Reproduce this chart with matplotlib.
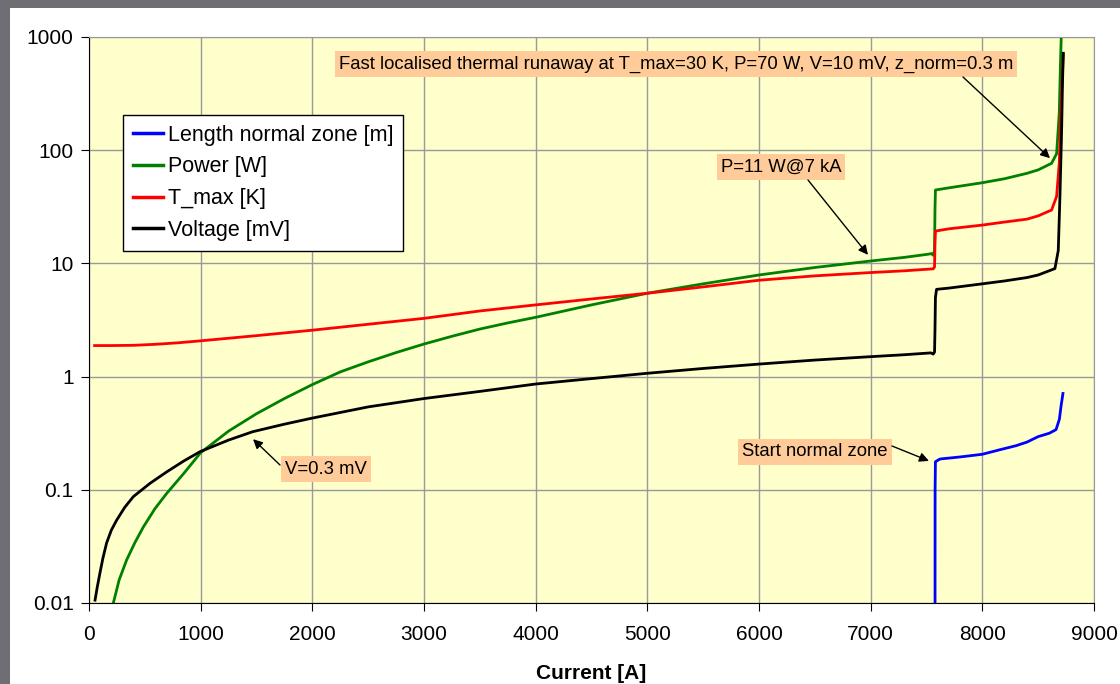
import matplotlib.pyplot as plt
from matplotlib.patches import Rectangle

plt.rcParams['font.family'] = ['Liberation Sans', 'DejaVu Sans']

# data (current in A)
length_I = [7576, 7577, 7580, 7620, 7800, 8000, 8150, 8300, 8400, 8500, 8600, 8660, 8690, 8705, 8722]
length_z = [0.001, 0.1, 0.177, 0.187, 0.195, 0.206, 0.225, 0.245, 0.264, 0.295, 0.316, 0.34, 0.42, 0.55, 0.71]

power_I = [218, 270, 337, 410, 487, 590, 696, 850, 1000, 1125, 1250, 1500, 1750, 2000, 2250, 2500,
           2750, 3000, 3250, 3500, 3750, 4000, 4500, 5000, 5500, 6000, 6500, 7000, 7300, 7500,
           7545, 7560, 7572, 7576, 7580, 7700, 8000, 8200, 8400, 8500, 8620, 8665, 8689, 8700, 8712]
power_P = [0.01, 0.016, 0.024, 0.034, 0.047, 0.068, 0.093, 0.14, 0.213, 0.265, 0.33, 0.47, 0.64, 0.85, 1.1, 1.35,
           1.63, 1.94, 2.27, 2.63, 2.98, 3.34, 4.3, 5.45, 6.6, 7.9, 9.2, 10.5, 11.3, 12.0,
           12.2, 11.8, 13, 30, 44.5, 46.5, 51.6, 56, 62.5, 67, 76.6, 93, 213, 600, 1500]

tmax_I = [50, 200, 400, 600, 800, 1000, 1500, 2000, 2500, 3000, 3500, 4000, 4500, 5000, 5500,
          6000, 6500, 7000, 7300, 7500, 7560, 7572, 7576, 7580, 7700, 8000, 8200, 8400, 8500, 8620,
          8665, 8689, 8705, 8718, 8725]
tmax_T = [1.88, 1.88, 1.89, 1.93, 1.99, 2.07, 2.3, 2.57, 2.9, 3.27, 3.8, 4.3, 4.85, 5.45, 6.2,
          7.1, 7.76, 8.3, 8.6, 8.87, 8.95, 9.3, 15, 19.3, 20.2, 21.8, 23.2, 24.6, 26.3, 29.6,
          39, 77, 250, 500, 700]

volt_I = [54, 75, 98, 125, 158, 200, 248, 320, 397, 546, 696, 850, 994, 1250, 1466, 1750, 2000,
          2500, 3000, 3500, 4000, 4500, 5000, 5500, 6000, 6500, 7000, 7300, 7540, 7560, 7572,
          7576, 7580, 7590, 7700, 8000, 8200, 8400, 8500, 8650, 8680, 8695, 8710, 8718, 8725]
volt_V = [0.0106, 0.014, 0.0184, 0.025, 0.034, 0.044, 0.054, 0.07, 0.087, 0.114, 0.144, 0.18, 0.217, 0.275, 0.326, 0.38, 0.43,
          0.54, 0.64, 0.74, 0.86, 0.96, 1.07, 1.18, 1.29, 1.4, 1.5, 1.56, 1.62, 1.58, 1.65,
          2.6, 5.0, 5.9, 6.05, 6.6, 7.0, 7.5, 7.9, 9.0, 13, 39, 150, 400, 718]

H = 684
fig = plt.figure(figsize=(11.2, 6.84), dpi=100, facecolor='#6f6e74')
fig.patches.append(Rectangle((10 / 1120, 0), 1, 1 - 8 / H, transform=fig.transFigure,
                             facecolor='white', edgecolor='none', zorder=-10))
ax = fig.add_axes([89 / 1120, 1 - 603 / H, 1005 / 1120, 566 / H])
ax.set_facecolor('#ffffcc')

lw = 2.0
ax.plot(length_I, length_z, color='#0000ff', lw=lw, label='Length normal zone [m]')
ax.plot(power_I, power_P, color='#008000', lw=lw, label='Power [W]')
ax.plot(tmax_I, tmax_T, color='#ff0000', lw=lw, label='T_max [K]')
ax.plot(volt_I, volt_V, color='#000000', lw=lw, label='Voltage [mV]')

ax.set_yscale('log')
ax.set_ylim(0.01, 1000)
ax.set_xlim(0, 9000)
ax.set_xticks(range(0, 9001, 1000))
ax.set_yticks([0.01, 0.1, 1, 10, 100, 1000])
ax.set_yticklabels(['0.01', '0.1', '1', '10', '100', '1000'])
ax.yaxis.set_minor_locator(plt.NullLocator())
ax.grid(True, color='#999999', lw=1)
ax.set_axisbelow(True)
ax.tick_params(labelsize=15, direction='out', length=6, color='black')
ax.tick_params(axis='x', pad=10)
ax.tick_params(axis='y', pad=5)
for s in ['top', 'right']:
    ax.spines[s].set_color('#999999')
for s in ['left', 'bottom']:
    ax.spines[s].set_color('black')
ax.set_xlabel('Current [A]', fontsize=15, fontweight='bold', labelpad=14)

leg = ax.legend(loc='upper left', bbox_to_anchor=(34 / 1005, 1 - 78 / 566), fontsize=15.5,
                frameon=True, fancybox=False, framealpha=1, edgecolor='black',
                handlelength=1.4, handletextpad=0.25, labelspacing=0.5, borderaxespad=0,
                borderpad=0.45)
leg.get_frame().set_linewidth(1.0)
for h in leg.get_lines():
    h.set_linewidth(2.5)

box = dict(boxstyle='square,pad=0.22', facecolor='#ffcc99', edgecolor='none')
arrow = dict(arrowstyle='-|>', color='black', lw=1, mutation_scale=14, shrinkA=0, shrinkB=0)
fpx = 'figure pixels'


def label(text, cx, cy):
    ax.annotate(text, xy=(cx, H - cy), xycoords=fpx, fontsize=13.3,
                ha='center', va='center', bbox=box)


def pointer(tip, tx, ty):
    ax.annotate('', xy=tip, xytext=(tx, H - ty), textcoords=fpx, arrowprops=arrow)


label('Fast localised thermal runaway at T_max=30 K, P=70 W, V=10 mV, z_norm=0.3 m', 676, 64)
pointer((8606, 85), 963, 77)
label('P=11 W@7 kA', 781, 167)
pointer((6976, 11.9), 808, 180)
label('Start normal zone', 815, 452)
pointer((7522, 0.18), 892, 446)
label('V=0.3 mV', 326, 469)
pointer((1469, 0.28), 280, 465)

plt.savefig('out.png', dpi=100, facecolor=fig.get_facecolor())
